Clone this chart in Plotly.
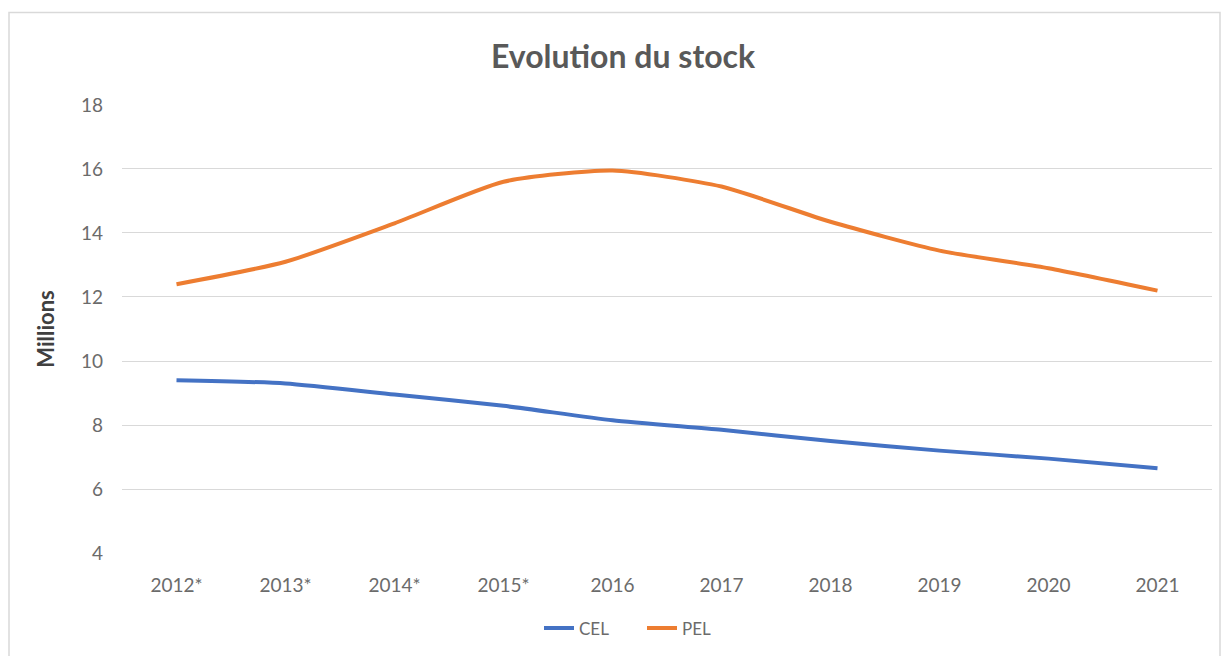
import plotly.graph_objects as go

years = ["2012*", "2013*", "2014*", "2015*", "2016", "2017", "2018", "2019", "2020", "2021"]
cel = [9.4, 9.3, 8.95, 8.6, 8.15, 7.85, 7.5, 7.2, 6.95, 6.65]
pel = [12.4, 13.1, 14.3, 15.6, 15.95, 15.45, 14.35, 13.45, 12.9, 12.2]
y_ticks = [4, 6, 8, 10, 12, 14, 16, 18]

# page body has an 8px margin; figure sized to fit exactly in the 1230x664 window
W, H = 1214, 648
L, R, T, B = 114, 10, 96, 99
pw, ph = W - L - R, H - T - B

fig = go.Figure()
fig.add_trace(go.Scatter(x=years, y=cel, name="CEL", mode="lines",
                         line=dict(color="#4472C4", width=4, shape="spline", smoothing=0.6)))
fig.add_trace(go.Scatter(x=years, y=pel, name="PEL", mode="lines",
                         line=dict(color="#ED7D31", width=4, shape="spline", smoothing=0.6)))

font_family = "Lato, Open Sans, sans-serif"
tick_color = "#6b6b6b"
fig.update_layout(
    width=W, height=H,
    margin=dict(l=L, r=R, t=T, b=B),
    paper_bgcolor="white", plot_bgcolor="white",
    title=dict(text="Evolution du stock", x=(615 - L) / pw, xref="paper", xanchor="center",
               y=1 - 49 / H, yanchor="middle",
               font=dict(family=font_family, size=32, color="#595959", weight="bold")),
    font=dict(family=font_family, size=16, color=tick_color),
    showlegend=True,
    legend=dict(orientation="h", x=(634 - L) / pw, xanchor="center", y=-(624 - (T + ph)) / ph,
                yanchor="middle", font=dict(size=17, color=tick_color),
                entrywidth=58, entrywidthmode="pixels", tracegroupgap=0),
    xaxis=dict(type="category", range=[-0.5, 9.5], showgrid=False, showline=False,
               ticks="", tickfont=dict(size=19, color=tick_color), ticklabelstandoff=18),
    yaxis=dict(range=[3.97, 18.03], tickvals=y_ticks, showgrid=True, gridcolor="#D9D9D9", gridwidth=1.3,
               zeroline=False, showline=False, ticks="", tickfont=dict(size=19, color=tick_color),
               ticklabelstandoff=18,
               title=dict(text="Millions", font=dict(size=22, color="#404040", weight="bold"),
                          standoff=20)),
    shapes=[dict(type="rect", xref="paper", yref="paper",
                 x0=(1 - L) / pw, x1=(1212 - L) / pw, y0=-(H + 5 - T - ph) / ph, y1=1 + (T - 4) / ph,
                 line=dict(color="#D9D9D9", width=1.5), fillcolor="rgba(0,0,0,0)", layer="below")],
)

fig.write_html("out.html")
